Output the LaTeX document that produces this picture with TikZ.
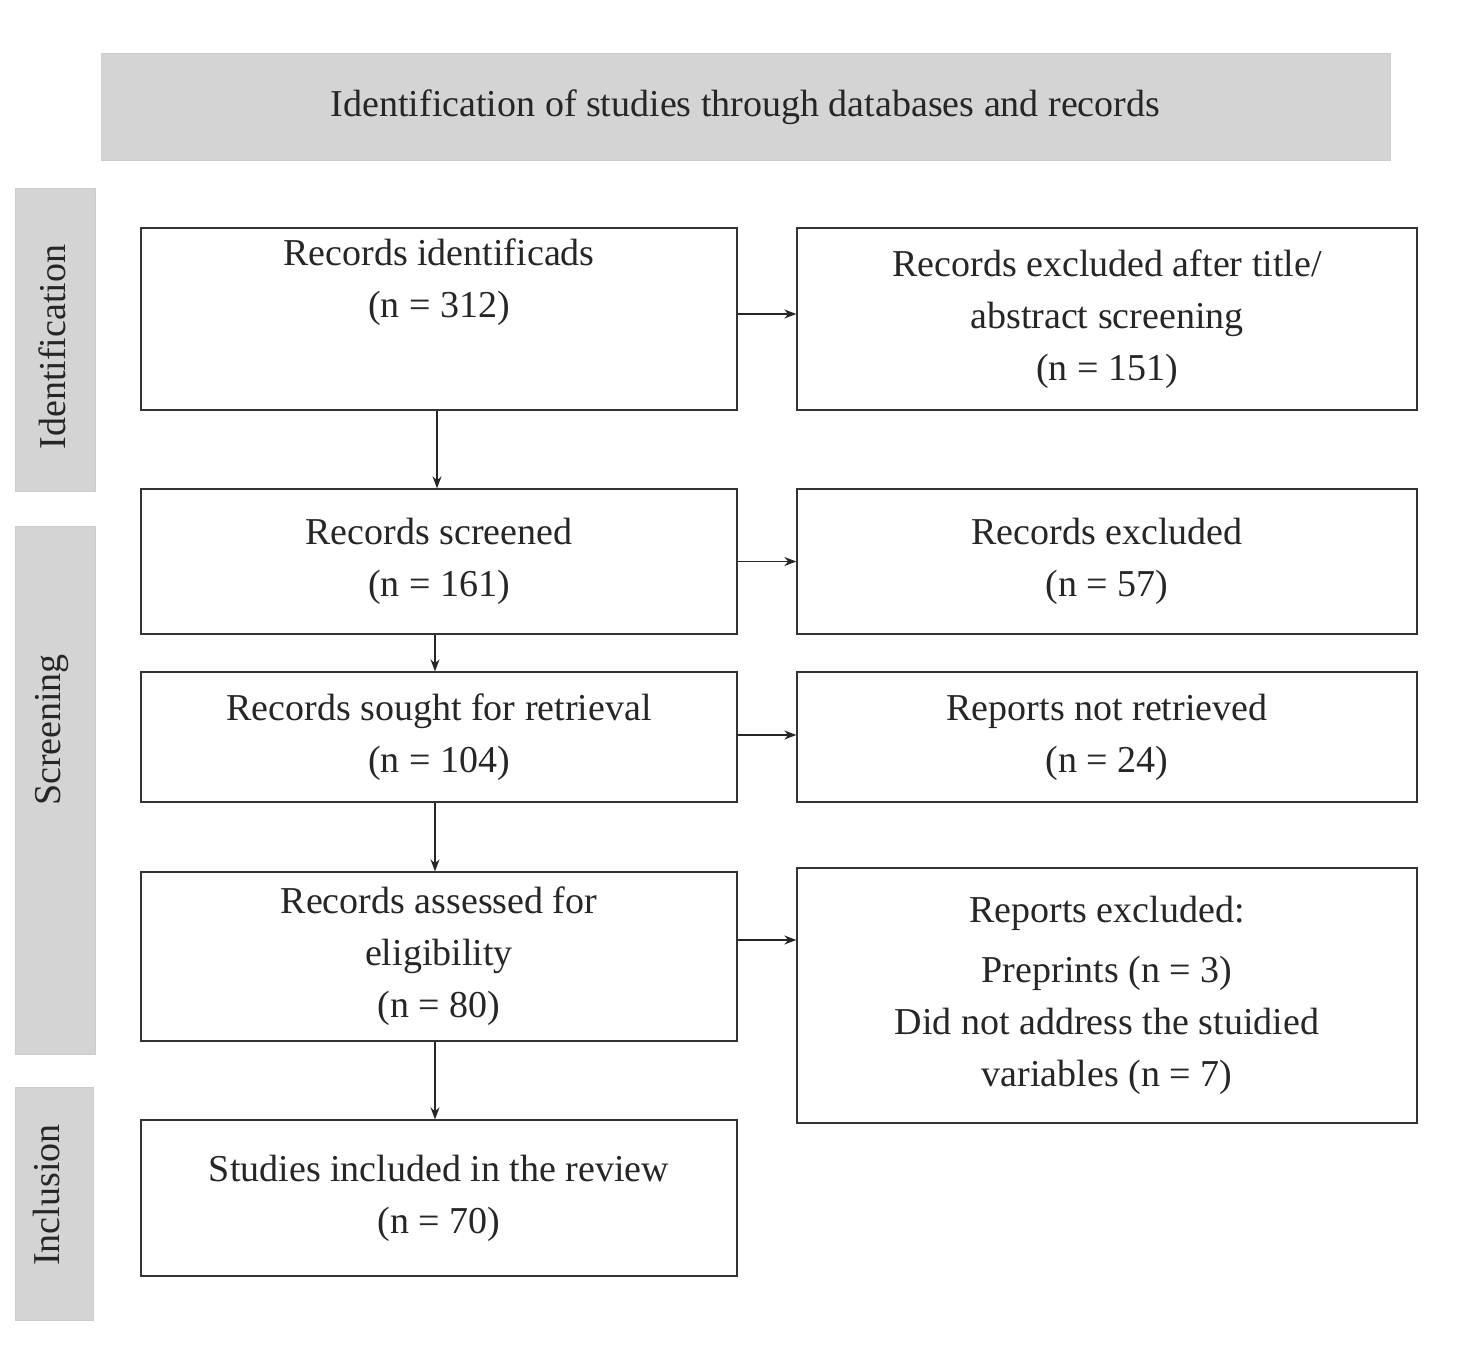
\documentclass[tikz,border=0pt]{standalone}
\usepackage{fontspec}
\setmainfont{Liberation Serif}
\usetikzlibrary{arrows.meta}
\begin{document}
\begin{tikzpicture}[x=1pt,y=-1pt,
  box/.style={draw=black!80,line width=1.3pt,rectangle,align=center,inner sep=0pt,
    font=\fontsize{38}{52}\selectfont,text=black!85},
  band/.style={draw=black!20,fill=black!17,line width=1pt,inner sep=0pt,
    font=\fontsize{38}{46}\selectfont,text=black!85},
  arr/.style={line width=1.5pt,draw=black!85,-{Stealth[length=12pt,width=9pt]}}]
\useasboundingbox[fill=white] (0,0) rectangle (1460,1351);
\node[band,minimum width=1289,minimum height=107] (title) at (745.5,107.5)
  {Identification of studies through databases and records};
\node[band,minimum width=80,minimum height=302] (s1) at (55,340) {};
\node[rotate=90,font=\fontsize{38}{46}\selectfont,text=black!85] (t1) at (52,347) {Identification};
\node[band,minimum width=80,minimum height=528] (s2) at (55,790) {};
\node[rotate=90,font=\fontsize{38}{46}\selectfont,text=black!85] (t2) at (52,730) {Screening};
\node[band,minimum width=78,minimum height=233] (s3) at (54,1203.5) {};
\node[rotate=90,font=\fontsize{38}{46}\selectfont,text=black!85] (t3) at (47,1195) {Inclusion};

\node[box,minimum width=596,minimum height=182] (l1) at (439,319) {Records identificads\\(n = 312)\\[30pt]};
\node[box,minimum width=596,minimum height=145] (l2) at (439,561.5) {Records screened\\(n = 161)};
\node[box,minimum width=596,minimum height=130] (l3) at (439,737) {Records sought for retrieval\\(n = 104)};
\node[box,minimum width=596,minimum height=169] (l4) at (439,956.5) {Records assessed for\\eligibility\\(n = 80)};
\node[box,minimum width=596,minimum height=156] (l5) at (439,1198) {Studies included in the review\\(n = 70)};

\node[box,minimum width=620,minimum height=182] (r1) at (1107,319) {Records excluded after title/\\abstract screening\\(n = 151)};
\node[box,minimum width=620,minimum height=145] (r2) at (1107,561.5) {Records excluded\\(n = 57)};
\node[box,minimum width=620,minimum height=130] (r3) at (1107,737) {Reports not retrieved\\(n = 24)};
\node[box,minimum width=620,minimum height=255] (r4) at (1107,995.5) {Reports excluded:\\[8pt]Preprints (n = 3)\\Did not address the stuidied\\variables (n = 7)};

\draw[arr] (l1.east |- 0,314) -- (r1.west |- 0,314);
\draw[arr] (l2.east) -- (r2.west);
\draw[arr] (l3.east |- 0,735) -- (r3.west |- 0,735);
\draw[arr] (l4.east |- 0,940) -- (r4.west |- 0,940);
\draw[arr] (l1.south -| 437,0) -- (l2.north -| 437,0);
\draw[arr] (l2.south -| 435,0) -- (l3.north -| 435,0);
\draw[arr] (l3.south -| 435,0) -- (l4.north -| 435,0);
\draw[arr] (l4.south -| 435,0) -- (l5.north -| 435,0);
\end{tikzpicture}
\end{document}
